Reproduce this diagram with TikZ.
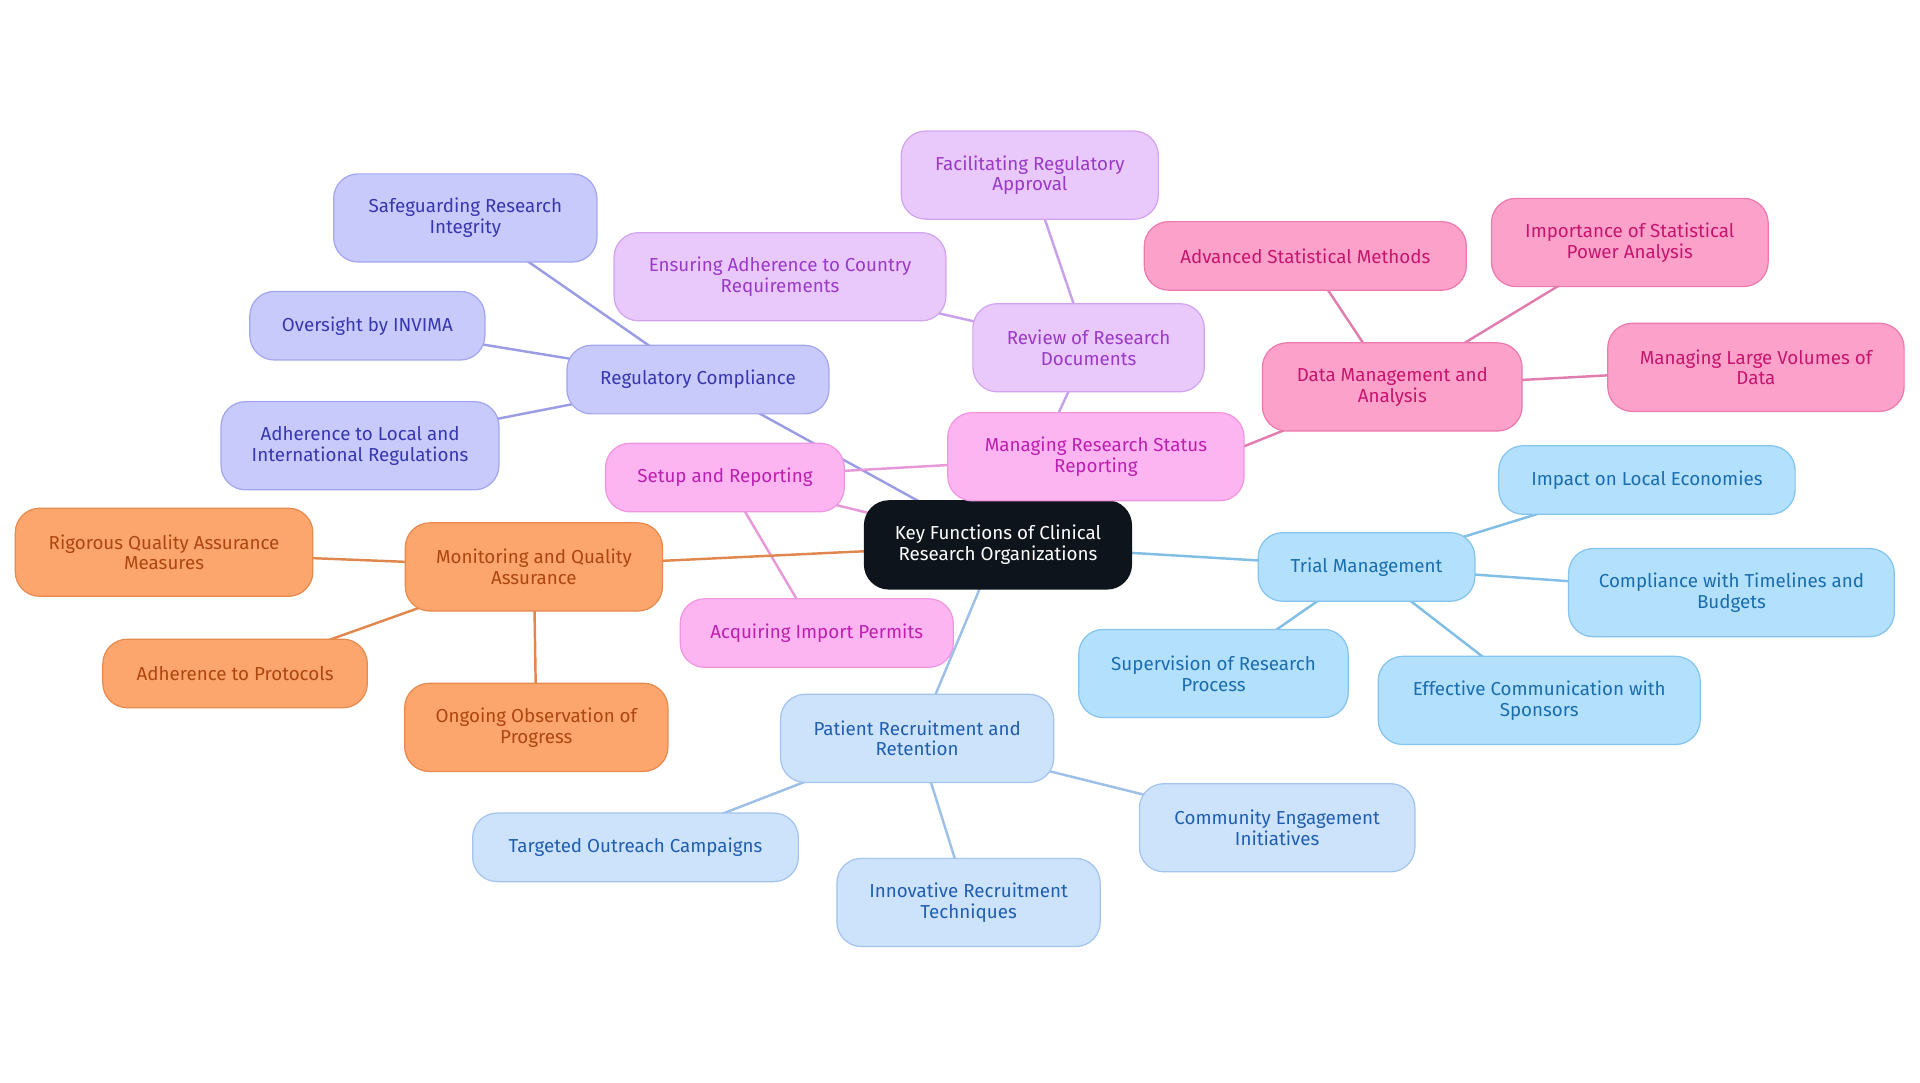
\documentclass[tikz,border=0pt]{standalone}
\usepackage{fontspec}
\setmainfont{Fira Sans}
\usetikzlibrary{backgrounds}

\definecolor{rootfill}{HTML}{0E141B}
\definecolor{regfill}{HTML}{C8CAFC}
\definecolor{regdraw}{HTML}{A3A6EE}
\definecolor{regtext}{HTML}{3737AE}
\definecolor{regline}{HTML}{9A9DE4}
\definecolor{revfill}{HTML}{E9C9FC}
\definecolor{revdraw}{HTML}{D2A4F0}
\definecolor{revtext}{HTML}{9A3AC6}
\definecolor{revline}{HTML}{C8A0EC}
\definecolor{setfill}{HTML}{FDB5F2}
\definecolor{setdraw}{HTML}{F096E0}
\definecolor{settext}{HTML}{BD1FAE}
\definecolor{setline}{HTML}{E698D8}
\definecolor{datfill}{HTML}{FCA2CA}
\definecolor{datdraw}{HTML}{EC7AAE}
\definecolor{dattext}{HTML}{C6156F}
\definecolor{datline}{HTML}{E07CAE}
\definecolor{trifill}{HTML}{B3E0FC}
\definecolor{tridraw}{HTML}{84C4EE}
\definecolor{tritext}{HTML}{1A6DAE}
\definecolor{triline}{HTML}{80BEE6}
\definecolor{patfill}{HTML}{CDE3FC}
\definecolor{patdraw}{HTML}{A2C4EE}
\definecolor{pattext}{HTML}{205EAE}
\definecolor{patline}{HTML}{9CC0E8}
\definecolor{monfill}{HTML}{FCA66E}
\definecolor{mondraw}{HTML}{E68A4E}
\definecolor{montext}{HTML}{AE4610}
\definecolor{monline}{HTML}{E0874E}

\begin{document}
\begin{tikzpicture}[x=0.6pt,y=-0.6pt]
	 \tikzstyle{box}=[rounded corners=12pt,align=center,inner sep=0pt,line width=0.6pt,font=\fontsize{9.2}{10.2}\selectfont]
	 \tikzstyle{one}=[minimum height=33.6pt]
	 \tikzstyle{two}=[minimum height=43.2pt]
	 \tikzstyle{root}=[box, two, fill=rootfill, draw=rootfill, text=white]
	 \tikzstyle{reg}=[box, fill=regfill, draw=regdraw, text=regtext]
	 \tikzstyle{rev}=[box, fill=revfill, draw=revdraw, text=revtext]
	 \tikzstyle{set}=[box, fill=setfill, draw=setdraw, text=settext]
	 \tikzstyle{dat}=[box, fill=datfill, draw=datdraw, text=dattext]
	 \tikzstyle{tri}=[box, fill=trifill, draw=tridraw, text=tritext]
	 \tikzstyle{pat}=[box, fill=patfill, draw=patdraw, text=pattext]
	 \tikzstyle{mon}=[box, fill=monfill, draw=mondraw, text=montext]
	 \tikzstyle{edge}=[draw,line width=1.2pt,-]
	 \useasboundingbox (0,0) rectangle (1568,884.4);
	 % centre
	 \node[root, minimum width=130.8pt] (root) at (815,445) {Key Functions of Clinical\\Research Organizations};
	 % regulatory compliance
	 \node[reg, one, minimum width=128.4pt] (reg) at (570,310) {Regulatory Compliance};
	 \node[reg, two, minimum width=129pt] (safe) at (380,178) {Safeguarding Research\\Integrity};
	 \node[reg, one, minimum width=115.2pt] (invima) at (300,266) {Oversight by INVIMA};
	 \node[reg, two, minimum width=136.2pt] (local) at (294,364) {Adherence to Local and\\International Regulations};
	 % review of documents
	 \node[rev, two, minimum width=113.4pt] (rev) at (889,284) {Review of Research\\Documents};
	 \node[rev, two, minimum width=162.6pt] (country) at (637,226) {Ensuring Adherence to Country\\Requirements};
	 \node[rev, two, minimum width=126pt] (approval) at (841,143) {Facilitating Regulatory\\Approval};
	 % setup and reporting
	 \node[set, two, minimum width=145.2pt] (status) at (895,373) {Managing Research Status\\Reporting};
	 \node[set, one, minimum width=117pt] (setup) at (592,390) {Setup and Reporting};
	 \node[set, one, minimum width=133.8pt] (permits) at (667,517) {Acquiring Import Permits};
	 % data management
	 \node[dat, two, minimum width=127.2pt] (data) at (1137,316) {Data Management and\\Analysis};
	 \node[dat, one, minimum width=157.8pt] (methods) at (1066,209) {Advanced Statistical Methods};
	 \node[dat, two, minimum width=135.6pt] (power) at (1331,198) {Importance of Statistical\\Power Analysis};
	 \node[dat, two, minimum width=145.2pt] (volumes) at (1434,300) {Managing Large Volumes of\\Data};
	 % trial management
	 \node[tri, one, minimum width=106.2pt] (trial) at (1116,463) {Trial Management};
	 \node[tri, one, minimum width=145.2pt] (economies) at (1345,392) {Impact on Local Economies};
	 \node[tri, two, minimum width=159.6pt] (budgets) at (1414,484) {Compliance with Timelines and\\Budgets};
	 \node[tri, two, minimum width=132pt] (process) at (991,550) {Supervision of Research\\Process};
	 \node[tri, two, minimum width=157.8pt] (sponsors) at (1257,572) {Effective Communication with\\Sponsors};
	 % patient recruitment
	 \node[pat, two, minimum width=133.8pt] (patient) at (749,603) {Patient Recruitment and\\Retention};
	 \node[pat, one, minimum width=159.6pt] (outreach) at (519,692) {Targeted Outreach Campaigns};
	 \node[pat, two, minimum width=129pt] (techniques) at (791,737) {Innovative Recruitment\\Techniques};
	 \node[pat, two, minimum width=135pt] (community) at (1043,676) {Community Engagement\\Initiatives};
	 % monitoring
	 \node[mon, two, minimum width=126pt] (mon) at (436,463) {Monitoring and Quality\\Assurance};
	 \node[mon, two, minimum width=145.8pt] (measures) at (134,451) {Rigorous Quality Assurance\\Measures};
	 \node[mon, one, minimum width=129.6pt] (protocols) at (192,550) {Adherence to Protocols};
	 \node[mon, two, minimum width=129pt] (progress) at (438,594) {Ongoing Observation of\\Progress};
	 \begin{pgfonlayer}{background}
	 \draw[edge, regline] (root.center) -- (reg.center);
	 \draw[edge, regline] (reg.center) -- (safe.center);
	 \draw[edge, regline] (reg.center) -- (invima.center);
	 \draw[edge, regline] (reg.center) -- (local.center);
	 \draw[edge, revline] (root.center) -- (rev.center);
	 \draw[edge, revline] (rev.center) -- (country.center);
	 \draw[edge, revline] (rev.center) -- (approval.center);
	 \draw[edge, setline] (root.center) -- (setup.center);
	 \draw[edge, setline] (setup.center) -- (status.center);
	 \draw[edge, setline] (setup.center) -- (permits.center);
	 \draw[edge, datline] (root.center) -- (data.center);
	 \draw[edge, datline] (data.center) -- (methods.center);
	 \draw[edge, datline] (data.center) -- (power.center);
	 \draw[edge, datline] (data.center) -- (volumes.center);
	 \draw[edge, triline] (root.center) -- (trial.center);
	 \draw[edge, triline] (trial.center) -- (economies.center);
	 \draw[edge, triline] (trial.center) -- (budgets.center);
	 \draw[edge, triline] (trial.center) -- (process.center);
	 \draw[edge, triline] (trial.center) -- (sponsors.center);
	 \draw[edge, patline] (root.center) -- (patient.center);
	 \draw[edge, patline] (patient.center) -- (outreach.center);
	 \draw[edge, patline] (patient.center) -- (techniques.center);
	 \draw[edge, patline] (patient.center) -- (community.center);
	 \draw[edge, monline] (root.center) -- (mon.center);
	 \draw[edge, monline] (mon.center) -- (measures.center);
	 \draw[edge, monline] (mon.center) -- (protocols.center);
	 \draw[edge, monline] (mon.center) -- (progress.center);
	 \end{pgfonlayer}
\end{tikzpicture}
\end{document}
